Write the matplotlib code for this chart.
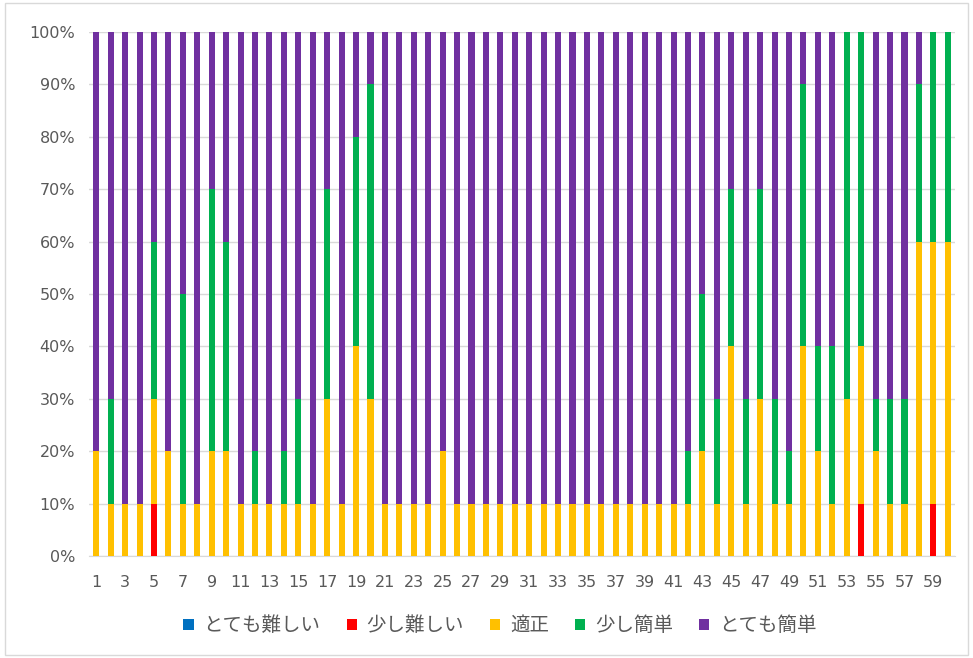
import numpy as np
import matplotlib.pyplot as plt
from matplotlib.patches import Rectangle

plt.rcParams['font.family'] = ['Noto Sans CJK JP', 'DejaVu Sans']

questions = np.arange(1, 61)
series_names = ['とても難しい', '少し難しい', '適正', '少し簡単', 'とても簡単']
series_colors = ['#0070C0', '#FF0000', '#FFC000', '#00B050', '#7030A0']

# percentages per question (each group of respondents sums to 100)
very_hard = [0] * 60
bit_hard = [0, 0, 0, 0, 10, 0, 0, 0, 0, 0,
            0, 0, 0, 0, 0, 0, 0, 0, 0, 0,
            0, 0, 0, 0, 0, 0, 0, 0, 0, 0,
            0, 0, 0, 0, 0, 0, 0, 0, 0, 0,
            0, 0, 0, 0, 0, 0, 0, 0, 0, 0,
            0, 0, 0, 10, 0, 0, 0, 0, 10, 0]
proper = [20, 10, 10, 10, 20, 20, 10, 10, 20, 20,
          10, 10, 10, 10, 10, 10, 30, 10, 40, 30,
          10, 10, 10, 10, 20, 10, 10, 10, 10, 10,
          10, 10, 10, 10, 10, 10, 10, 10, 10, 10,
          10, 10, 20, 10, 40, 10, 30, 10, 10, 40,
          20, 10, 30, 30, 20, 10, 10, 60, 50, 60]
bit_easy = [0, 20, 0, 0, 30, 0, 40, 0, 50, 40,
            0, 10, 0, 10, 20, 0, 40, 0, 40, 60,
            0, 0, 0, 0, 0, 0, 0, 0, 0, 0,
            0, 0, 0, 0, 0, 0, 0, 0, 0, 0,
            0, 10, 30, 20, 30, 20, 40, 20, 10, 50,
            20, 30, 70, 60, 10, 20, 20, 30, 40, 40]
very_easy = [80, 70, 90, 90, 40, 80, 50, 90, 30, 40,
             90, 80, 90, 80, 70, 90, 30, 90, 20, 10,
             90, 90, 90, 90, 80, 90, 90, 90, 90, 90,
             90, 90, 90, 90, 90, 90, 90, 90, 90, 90,
             90, 80, 50, 70, 30, 70, 30, 70, 80, 10,
             60, 60, 0, 0, 70, 70, 70, 10, 0, 0]

all_series = [very_hard, bit_hard, proper, bit_easy, very_easy]

fig = plt.figure(figsize=(9.73, 6.58), dpi=100)
ax = fig.add_axes([0.0915, 0.155, 0.89, 0.7965])

bottom = np.zeros(60)
for name, values, color in zip(series_names, all_series, series_colors):
    values = np.array(values, dtype=float)
    ax.bar(questions, values, width=0.42, bottom=bottom, color=color, label=name, zorder=3)
    bottom += values

ax.set_xlim(0.5, 60.5)
ax.set_ylim(0, 100)
ax.set_yticks(np.arange(0, 101, 10))
ax.set_yticklabels([f'{v}%' for v in range(0, 101, 10)])
ax.set_xticks(np.arange(1, 61, 2))
for lbl in ax.get_xticklabels() + ax.get_yticklabels():
    lbl.set_family('DejaVu Sans')
ax.grid(axis='y', color='#d9d9d9', linewidth=1, zorder=0)
for side in ['top', 'right', 'left']:
    ax.spines[side].set_visible(False)
ax.spines['bottom'].set_color('#d9d9d9')
ax.tick_params(axis='both', length=0, colors='#595959', labelsize=11.5)
ax.tick_params(axis='y', pad=10)
ax.tick_params(axis='x', pad=14)

ax.legend(loc='center', bbox_to_anchor=(0.4746, -0.133), ncol=5, frameon=False,
          fontsize=14, labelcolor='#595959', handlelength=0.52, handleheight=0.52,
          handletextpad=0.5, columnspacing=1.35)

fig.patches.append(Rectangle((0.005, 0.005), 0.99, 0.99, transform=fig.transFigure,
                             fill=False, edgecolor='#d9d9d9', linewidth=1))

fig.savefig('out.png', dpi=100)
